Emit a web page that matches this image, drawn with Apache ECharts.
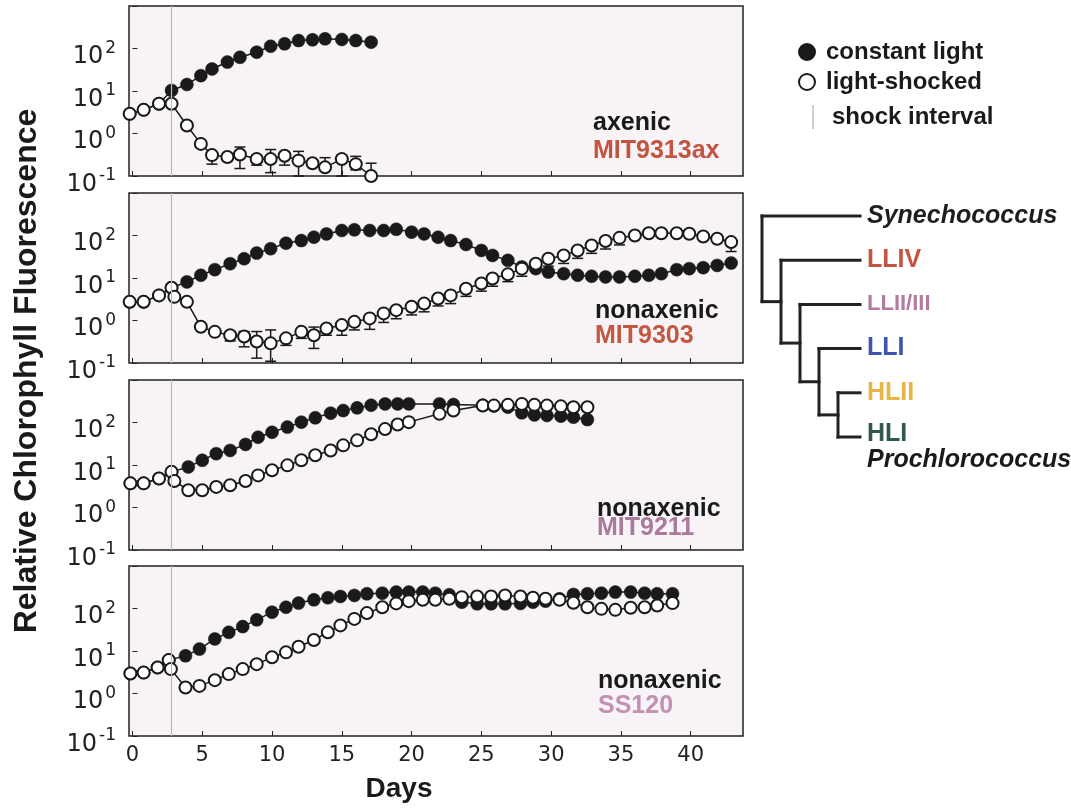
<!DOCTYPE html>
<html><head><meta charset="utf-8">
<script src="https://cdn.jsdelivr.net/npm/echarts@6/dist/echarts.min.js"></script>
<style>html,body{margin:0;padding:0;background:#fff}#c{width:1071px;height:809px}</style>
</head><body><div id="c"></div>
<script>
// ---------- data ----------
const xTicks = [0, 5, 10, 15, 20, 25, 30, 35, 40];
const shockDay = 2.8;
const panelLabels = [['axenic', 'MIT9313ax'], ['nonaxenic', 'MIT9303'], ['nonaxenic', 'MIT9211'], ['nonaxenic', 'SS120']];
const panelLabelColors = ['#c4533f', '#c4583f', '#a97a9b', '#c391b2'];

// panel 1: MIT9313ax (axenic)
const days1 = [-0.2, 0.8, 1.9, 2.8, 3.9, 4.9, 5.7, 6.8, 7.7, 8.9, 9.9, 10.9, 11.9, 12.9, 13.8, 15.0, 16.0, 17.1];
const constant1 = [2.9, 3.6, 5.0, 10.3, 14.2, 23, 33, 48, 62, 82, 113, 129, 154, 160, 169, 163, 154, 141];
const shocked1 = [2.9, 3.6, 5.0, 5.0, 1.54, 0.57, 0.31, 0.28, 0.32, 0.25, 0.25, 0.30, 0.23, 0.20, 0.16, 0.25, 0.19, 0.10];
const err1Days = [5.7, 7.7, 8.9, 9.9, 10.9, 11.9, 13.8, 15.0, 16.0, 17.1];
const err1Lo = [0.19, 0.15, 0.18, 0.12, 0.18, 0.10, null, 0.10, 0.14, null];
const err1Hi = [null, 0.48, 0.31, 0.42, 0.36, 0.38, 0.27, 0.31, 0.29, 0.20];

// panel 2: MIT9303
const days2 = [-0.2, 0.8, 1.9, 2.8, 3.0, 3.9, 4.9, 5.9, 7.0, 8.0, 8.9, 9.9, 11.0, 12.1, 13.0, 13.9, 15.0, 15.9, 17.0, 18.0, 18.9, 20.0, 20.9, 21.9, 22.8, 23.9, 25.0, 25.8, 26.9, 27.9, 28.9, 29.8, 30.9, 31.9, 32.9, 33.9, 34.9, 36.0, 37.0, 37.9, 39.0, 39.9, 40.9, 41.9, 42.9];
const constant2 = [2.75, 2.75, 3.9, 5.9, null, 8.1, 11.6, 15.7, 21.7, 28.4, 38.5, 48.8, 66, 76, 91, 109, 131, 136, 131, 131, 140, 120, 109, 91, 76, 61.5, 44.5, 34, 26, 18.2, 16.6, 13.8, 12.6, 11.6, 11.0, 10.6, 10.6, 11.0, 11.6, 12.6, 15.7, 16.6, 17.5, 19.8, 22.5];
const shocked2 = [2.75, 2.75, 3.9, 5.9, 3.6, 2.75, 0.71, 0.54, 0.45, 0.42, 0.32, 0.29, 0.38, 0.54, 0.45, 0.65, 0.78, 0.93, 1.12, 1.47, 1.75, 2.1, 2.5, 3.3, 3.9, 5.6, 7.4, 9.7, 12.2, 16.6, 21.7, 28.4, 34, 44.5, 58, 74, 88, 100, 113, 113, 113, 110, 95, 84, 70];
const err2Days = [7.0, 8.0, 8.9, 9.9, 11.0, 12.1, 13.0, 13.9, 15.0, 15.9, 17.0, 18.0, 18.9, 20.0, 20.9, 21.9, 22.8, 23.9, 25.0, 25.8, 26.9, 27.9, 28.9, 29.8, 30.9, 31.9, 32.9, 33.9, 34.9, 42.9];
const err2Lo = [0.33, 0.24, 0.13, 0.11, 0.26, 0.38, 0.22, 0.45, 0.45, 0.6, 0.62, 0.9, 1.1, 1.35, 1.6, 2.2, 2.5, 3.7, 4.9, 6.4, 8.2, 11, 14.5, 19, 22, 29, 38, 48, 60, 42];
const err2Hi = [null, 0.55, 0.55, 0.6, null, null, 0.7, null, null, null, null, null, null, null, null, null, null, null, null, null, null, null, null, null, null, null, null, null, null, null];

// panel 3: MIT9211
const days3 = [-0.15, 0.8, 1.9, 2.8, 3.0, 4.0, 5.0, 6.0, 7.0, 8.1, 9.0, 10.0, 11.1, 12.1, 13.1, 14.2, 15.1, 16.1, 17.1, 18.1, 19.0, 19.8, 22.0, 23.0, 25.1, 25.9, 26.9, 27.9, 28.8, 29.7, 30.7, 31.6, 32.6];
const constant3 = [3.7, 3.7, 4.8, 6.9, null, 9.0, 12.9, 18.5, 22, 30.5, 45, 59, 78, 102, 129, 166, 191, 221, 255, 274, 274, 274, 274, 265, 255, 245, 230, 169, 151, 146, 141, 133, 117];
const shocked3 = [3.7, 3.7, 4.8, 6.9, 4.2, 2.55, 2.55, 3.05, 3.35, 4.2, 5.7, 7.5, 9.8, 12.9, 16.9, 22, 29, 38, 53, 70, 90, 102, 160, 191, 250, 250, 260, 274, 260, 250, 240, 228, 228];

// panel 4: SS120
const days4 = [-0.15, 0.8, 1.8, 2.6, 2.75, 3.8, 4.8, 5.9, 6.9, 7.9, 8.9, 10.0, 11.0, 11.9, 13.0, 14.0, 14.9, 15.9, 16.8, 17.9, 18.9, 19.8, 20.8, 21.7, 22.7, 23.6, 24.7, 25.7, 26.7, 27.8, 28.7, 29.6, 30.6, 31.6, 32.6, 33.6, 34.6, 35.7, 36.7, 37.6, 38.7];
const constant4 = [2.96, 3.1, 4.1, 6.1, null, 7.7, 11.1, 19.2, 27.5, 37.5, 54, 82, 107, 134, 160, 179, 192, 203, 222, 230, 243, 243, 243, 230, 210, 141, 129, 129, 129, 131, 141, 149, 169, 214, 222, 230, 243, 243, 230, 222, 222];
const shocked4 = [2.96, 3.1, 4.1, 6.1, 3.75, 1.38, 1.51, 2.06, 2.86, 3.75, 4.9, 7.1, 9.3, 12.6, 18.2, 27.5, 40, 57, 78, 107, 132, 149, 160, 160, 169, 185, 192, 192, 203, 192, 179, 169, 160, 136, 107, 98, 93, 104, 107, 118, 134];

// phylogeny (Prochlorococcus ecotypes)
const treeTopology = ['Synechococcus', ['LLIV', ['LLII/III', ['LLI', ['HLII', 'HLI']]]]];
const treeLabelColors = { 'Synechococcus': '#1e1e1e', 'LLIV': '#c4533f', 'LLII/III': '#b27ba0', 'LLI': '#3d55ae', 'HLII': '#e8b446', 'HLI': '#2f5a47' };

// ---------- chart ----------
const panels = [
  { days: days1, c: constant1, s: shocked1, eD: err1Days, eLo: err1Lo, eHi: err1Hi },
  { days: days2, c: constant2, s: shocked2, eD: err2Days, eLo: err2Lo, eHi: err2Hi },
  { days: days3, c: constant3, s: shocked3, eD: [], eLo: [], eHi: [] },
  { days: days4, c: constant4, s: shocked4, eD: [], eLo: [], eHi: [] }
];
const NUMF = 'DejaVu Sans';
const TXTF = 'Liberation Sans';
const INK = '#1a1a1a';
const gridTops = [6, 193, 380, 566];
const GL = 129, GW = 614, GH = 170;

const grids = [], xAxes = [], yAxes = [], series = [];
panels.forEach((p, i) => {
  grids.push({ left: GL, width: GW, top: gridTops[i], height: GH, show: true,
    backgroundColor: '#f7f3f6', borderColor: '#222', borderWidth: 1.5, containLabel: false, outerBoundsMode: 'none' });
  xAxes.push({ type: 'value', gridIndex: i, min: -0.25, max: 43.75,
    axisLine: { show: false }, splitLine: { show: false },
    axisTick: { show: true, inside: true, length: 5, customValues: xTicks, lineStyle: { color: '#222', width: 1 } },
    axisLabel: { show: i === 3, customValues: xTicks, fontFamily: NUMF, fontSize: 21, color: '#222', margin: 9 } });
  yAxes.push({ type: 'log', logBase: 10, gridIndex: i, min: 0.1, max: 1000,
    axisLine: { show: false }, splitLine: { show: false }, minorTick: { show: false },
    axisTick: { show: true, inside: true, length: 5, lineStyle: { color: '#222', width: 1 } },
    axisLabel: { margin: 13,
      formatter: v => { const e = Math.round(Math.log10(v)); return e > 2 ? '' : '{b|10}{s|' + e + '}'; },
      rich: {
        b: { fontFamily: NUMF, fontSize: 24, lineHeight: 41, color: '#222', verticalAlign: 'bottom' },
        s: { fontFamily: NUMF, fontSize: 17, lineHeight: 17, color: '#222', padding: [12, 0, 0, 2], verticalAlign: 'top' }
      } } });

  // shock interval marker
  series.push({ type: 'line', name: 'shock interval', xAxisIndex: i, yAxisIndex: i, data: [], z: 1, silent: true,
    markLine: { silent: true, symbol: 'none', label: { show: false }, animation: false,
      lineStyle: { color: '#cfb2b6', width: 1.2, type: 'solid' }, data: [{ xAxis: shockDay }] } });

  // error bars on light-shocked cultures
  const eData = p.eD.map((d, k) => {
    const idx = p.days.indexOf(d); const ctr = p.s[idx];
    return [d, p.eLo[k] == null ? ctr : p.eLo[k], p.eHi[k] == null ? ctr : p.eHi[k], p.eLo[k] == null ? 0 : 1, p.eHi[k] == null ? 0 : 1];
  });
  series.push({ type: 'custom', name: 'err' + i, xAxisIndex: i, yAxisIndex: i, z: 2, silent: true, data: eData,
    encode: { x: 0, y: [1, 2] },
    renderItem: (params, api) => {
      const x = api.value(0);
      const a = api.coord([x, api.value(1)]), b = api.coord([x, api.value(2)]);
      const w = 5.5, st = { stroke: INK, lineWidth: 1.5 };
      const ch = [{ type: 'line', shape: { x1: a[0], y1: a[1], x2: b[0], y2: b[1] }, style: st }];
      if (api.value(3)) ch.push({ type: 'line', shape: { x1: a[0] - w, y1: a[1], x2: a[0] + w, y2: a[1] }, style: st });
      if (api.value(4)) ch.push({ type: 'line', shape: { x1: b[0] - w, y1: b[1], x2: b[0] + w, y2: b[1] }, style: st });
      return { type: 'group', children: ch };
    } });

  series.push({ type: 'line', name: 'constant light', xAxisIndex: i, yAxisIndex: i, z: 3,
    data: p.days.map((d, k) => [d, p.c[k]]), connectNulls: true,
    symbol: 'circle', symbolSize: 13, showSymbol: true,
    itemStyle: { color: INK, borderColor: INK, borderWidth: 0.5 }, lineStyle: { color: INK, width: 1.5 } });
  series.push({ type: 'line', name: 'light-shocked', xAxisIndex: i, yAxisIndex: i, z: 4,
    data: p.days.map((d, k) => [d, p.s[k]]), connectNulls: true,
    symbol: 'circle', symbolSize: 12, showSymbol: true,
    itemStyle: { color: '#ffffff', borderColor: INK, borderWidth: 2 }, lineStyle: { color: INK, width: 1.5 } });
});

// graphic annotations
const graphic = [];
const txt = (text, x, y, size, color, style) => ({ type: 'text', x: x, y: y, silent: true,
  style: Object.assign({ text: text, fill: color, font: 'bold ' + size + 'px "' + TXTF + '"',
    align: 'left', verticalAlign: 'middle', textAlign: 'left', textVerticalAlign: 'middle' }, style || {}) });

const labelPos = [[593, 123, 151], [595, 311, 336], [597, 509, 528], [598, 681, 706]];
panelLabels.forEach((lb, i) => {
  graphic.push(txt(lb[0], labelPos[i][0], labelPos[i][1], 25, INK));
  graphic.push(txt(lb[1], labelPos[i][0], labelPos[i][2], 25, panelLabelColors[i]));
});
graphic.push({ type: 'text', x: 27, y: 371, rotation: Math.PI / 2, silent: true,
  style: { text: 'Relative Chlorophyll Fluorescence', fill: INK, font: 'bold 32px "' + TXTF + '"', align: 'center', verticalAlign: 'middle', textAlign: 'center', textVerticalAlign: 'middle' } });
graphic.push({ type: 'text', x: 399, y: 789, silent: true,
  style: { text: 'Days', fill: INK, font: 'bold 28px "' + TXTF + '"', align: 'center', verticalAlign: 'middle', textAlign: 'center', textVerticalAlign: 'middle' } });

// phylogenetic tree
const TX0 = 762, TDX = 19, TLEAF_X = 860, TLEAF_Y0 = 216, TLEAF_DY = 44.2;
const treeLines = [], treeLeaves = [];
let leafCount = 0;
function layoutTree(node, depth) {
  if (typeof node === 'string') {
    const y = TLEAF_Y0 + TLEAF_DY * leafCount++;
    treeLeaves.push({ name: node, y: y });
    return { leaf: true, y: y };
  }
  const x = TX0 + depth * TDX;
  const kids = node.map(c => layoutTree(c, depth + 1));
  kids.forEach(k => treeLines.push([x, k.y, k.leaf ? TLEAF_X : k.x, k.y]));
  treeLines.push([x, kids[0].y, x, kids[kids.length - 1].y]);
  return { leaf: false, x: x, y: (kids[0].y + kids[kids.length - 1].y) / 2 };
}
layoutTree(treeTopology, 0);
treeLines.forEach(l => graphic.push({ type: 'line', silent: true,
  shape: { x1: l[0], y1: l[1], x2: l[2], y2: l[3] }, style: { stroke: '#222', lineWidth: 3, lineCap: 'square' } }));
treeLeaves.forEach((lf, k) => {
  const italic = lf.name === 'Synechococcus';
  const size = lf.name === 'LLII/III' ? 22 : 25;
  const dy = k === treeLeaves.length - 1 ? -3 : 0;
  graphic.push({ type: 'text', x: 867, y: lf.y + dy, silent: true,
    style: { text: lf.name, fill: treeLabelColors[lf.name], font: (italic ? 'italic ' : '') + 'bold ' + size + 'px "' + TXTF + '"',
      align: 'left', verticalAlign: 'middle', textAlign: 'left', textVerticalAlign: 'middle' } });
});
graphic.push({ type: 'text', x: 867, y: 460, silent: true,
  style: { text: 'Prochlorococcus', fill: INK, font: 'italic bold 25px "' + TXTF + '"', align: 'left', verticalAlign: 'middle', textAlign: 'left', textVerticalAlign: 'middle' } });

const legendText = { fontFamily: TXTF, fontSize: 24, fontWeight: 'bold', color: INK, lineHeight: 26 };
const option = {
  animation: false,
  backgroundColor: '#ffffff',
  grid: grids, xAxis: xAxes, yAxis: yAxes, series: series, graphic: graphic,
  legend: [
    { left: 798, top: 39, orient: 'vertical', padding: 0, itemGap: 4, itemWidth: 28, itemHeight: 16, selectedMode: false,
      textStyle: legendText, data: [{ name: 'constant light', icon: 'circle' }, { name: 'light-shocked', icon: 'circle' }] },
    { left: 800, top: 104, orient: 'vertical', padding: 0, itemWidth: 28, itemHeight: 26, selectedMode: false,
      textStyle: legendText,
      data: [{ name: 'shock interval', icon: 'path://M0,0h0.01v0.01h-0.01z M13,1h2v26h-2z M27.99,27.99h0.01v0.01h-0.01z', itemStyle: { color: '#d2c6d4' } }] }
  ]
};
const chart = echarts.init(document.getElementById('c'), null, { renderer: 'canvas' });
chart.setOption(option);
</script></body></html>
